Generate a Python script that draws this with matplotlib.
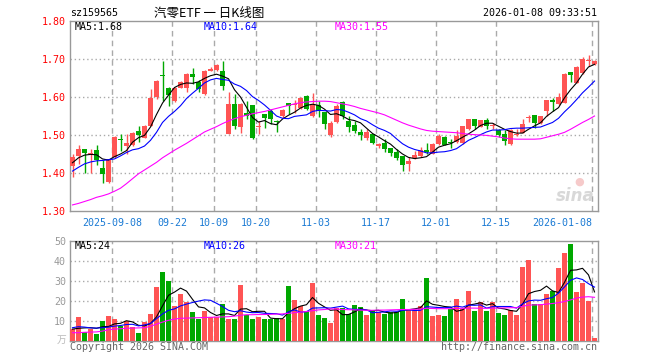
import matplotlib
matplotlib.use("Agg")
import matplotlib.pyplot as plt
import numpy as np

plt.rcParams.update({
    "font.family": "DejaVu Sans Mono",
    "font.size": 7.2,
})

# ---- data ----
tick_idx    = [7, 17, 24, 31, 41, 51, 61, 71, 87]
tick_labels = ["2025-09-08", "09-22", "10-09", "10-20", "11-03",
               "11-17", "12-01", "12-15", "2026-01-08"]

opens = [1.419, 1.445, 1.464, 1.449, 1.460, 1.414, 1.376, 1.442, 1.490, 1.470,
         1.475, 1.510, 1.493, 1.525, 1.600, 1.659, 1.623, 1.589, 1.625, 1.625,
         1.660, 1.639, 1.607, 1.668, 1.671, 1.668, 1.503, 1.582, 1.521, 1.558,
         1.578, 1.522, 1.556, 1.563, 1.537, 1.550, 1.583, 1.580, 1.572, 1.603,
         1.550, 1.578, 1.561, 1.499, 1.535, 1.587, 1.537, 1.526, 1.508, 1.493,
         1.502, 1.472, 1.478, 1.465, 1.455, 1.446, 1.423, 1.439, 1.445, 1.461,
         1.451, 1.477, 1.496, 1.481, 1.482, 1.480, 1.515, 1.541, 1.522, 1.539,
         1.523, 1.512, 1.502, 1.477, 1.500, 1.504, 1.545, 1.552, 1.531, 1.563,
         1.592, 1.581, 1.585, 1.667, 1.638, 1.664, 1.694, 1.686]
highs = [1.449, 1.474, 1.464, 1.464, 1.475, 1.433, 1.438, 1.498, 1.502, 1.502,
         1.508, 1.525, 1.526, 1.621, 1.644, 1.695, 1.626, 1.627, 1.641, 1.662,
         1.677, 1.646, 1.672, 1.679, 1.688, 1.695, 1.612, 1.607, 1.585, 1.590,
         1.579, 1.538, 1.556, 1.568, 1.540, 1.568, 1.583, 1.591, 1.600, 1.605,
         1.610, 1.590, 1.561, 1.537, 1.581, 1.590, 1.550, 1.537, 1.515, 1.515,
         1.503, 1.480, 1.489, 1.467, 1.462, 1.446, 1.441, 1.458, 1.469, 1.479,
         1.478, 1.503, 1.497, 1.489, 1.512, 1.525, 1.543, 1.543, 1.540, 1.545,
         1.531, 1.517, 1.513, 1.517, 1.515, 1.543, 1.552, 1.553, 1.551, 1.592,
         1.598, 1.611, 1.662, 1.667, 1.682, 1.704, 1.710, 1.697]
lows  = [1.390, 1.423, 1.401, 1.400, 1.420, 1.374, 1.374, 1.440, 1.458, 1.451,
         1.472, 1.482, 1.492, 1.524, 1.594, 1.589, 1.576, 1.588, 1.624, 1.614,
         1.635, 1.614, 1.605, 1.668, 1.668, 1.618, 1.502, 1.515, 1.504, 1.541,
         1.489, 1.502, 1.518, 1.528, 1.508, 1.546, 1.554, 1.559, 1.568, 1.566,
         1.548, 1.547, 1.515, 1.495, 1.532, 1.541, 1.508, 1.504, 1.487, 1.487,
         1.477, 1.465, 1.454, 1.444, 1.433, 1.405, 1.406, 1.438, 1.443, 1.449,
         1.449, 1.475, 1.474, 1.467, 1.479, 1.477, 1.513, 1.517, 1.521, 1.515,
         1.515, 1.496, 1.475, 1.475, 1.497, 1.504, 1.534, 1.519, 1.530, 1.550,
         1.563, 1.579, 1.584, 1.639, 1.636, 1.660, 1.682, 1.685]
closes = [1.443, 1.464, 1.452, 1.452, 1.433, 1.398, 1.436, 1.496, 1.488, 1.478,
          1.506, 1.499, 1.525, 1.597, 1.642, 1.655, 1.604, 1.625, 1.640, 1.660,
          1.653, 1.621, 1.669, 1.675, 1.683, 1.629, 1.582, 1.524, 1.582, 1.550,
          1.491, 1.525, 1.544, 1.541, 1.535, 1.565, 1.576, 1.582, 1.598, 1.568,
          1.581, 1.563, 1.528, 1.531, 1.576, 1.550, 1.521, 1.511, 1.500, 1.508,
          1.480, 1.476, 1.462, 1.453, 1.439, 1.420, 1.432, 1.447, 1.461, 1.456,
          1.477, 1.497, 1.475, 1.478, 1.497, 1.524, 1.541, 1.524, 1.539, 1.525,
          1.527, 1.499, 1.484, 1.512, 1.502, 1.528, 1.547, 1.531, 1.550, 1.591,
          1.588, 1.600, 1.660, 1.658, 1.679, 1.701, 1.696, 1.696]

ma5 = [1.427, 1.440, 1.447, 1.449, 1.448, 1.437, 1.434, 1.443, 1.450, 1.459,
       1.481, 1.493, 1.499, 1.521, 1.554, 1.584, 1.605, 1.625, 1.633, 1.637,
       1.636, 1.640, 1.649, 1.656, 1.660, 1.655, 1.648, 1.619, 1.600, 1.573,
       1.546, 1.534, 1.538, 1.530, 1.527, 1.542, 1.552, 1.560, 1.571, 1.578,
       1.581, 1.578, 1.568, 1.554, 1.556, 1.550, 1.541, 1.538, 1.532, 1.518,
       1.504, 1.495, 1.485, 1.476, 1.462, 1.450, 1.441, 1.438, 1.440, 1.443,
       1.455, 1.468, 1.473, 1.477, 1.485, 1.494, 1.503, 1.513, 1.525, 1.531,
       1.531, 1.523, 1.515, 1.509, 1.505, 1.505, 1.515, 1.524, 1.532, 1.549,
       1.561, 1.572, 1.598, 1.619, 1.637, 1.660, 1.679, 1.686]
ma10 = [1.405, 1.415, 1.424, 1.429, 1.432, 1.433, 1.435, 1.437, 1.445, 1.454,
        1.461, 1.464, 1.471, 1.486, 1.507, 1.533, 1.549, 1.562, 1.577, 1.596,
        1.610, 1.623, 1.637, 1.645, 1.649, 1.646, 1.644, 1.634, 1.628, 1.617,
        1.601, 1.591, 1.579, 1.565, 1.550, 1.544, 1.543, 1.549, 1.551, 1.553,
        1.562, 1.565, 1.564, 1.563, 1.567, 1.566, 1.560, 1.553, 1.543, 1.537,
        1.527, 1.518, 1.512, 1.504, 1.490, 1.477, 1.468, 1.462, 1.458, 1.453,
        1.453, 1.455, 1.456, 1.459, 1.464, 1.475, 1.486, 1.493, 1.501, 1.508,
        1.513, 1.513, 1.514, 1.517, 1.518, 1.518, 1.519, 1.520, 1.521, 1.527,
        1.533, 1.544, 1.561, 1.576, 1.593, 1.611, 1.626, 1.642]
ma30 = [1.316, 1.320, 1.325, 1.330, 1.336, 1.340, 1.345, 1.352, 1.360, 1.372,
        1.385, 1.398, 1.408, 1.418, 1.428, 1.440, 1.450, 1.460, 1.469, 1.478,
        1.488, 1.498, 1.508, 1.515, 1.522, 1.530, 1.537, 1.543, 1.548, 1.552,
        1.556, 1.559, 1.562, 1.566, 1.570, 1.574, 1.578, 1.582, 1.585, 1.587,
        1.588, 1.589, 1.589, 1.588, 1.585, 1.582, 1.579, 1.575, 1.570, 1.566,
        1.562, 1.558, 1.553, 1.546, 1.539, 1.532, 1.526, 1.521, 1.516, 1.512,
        1.510, 1.509, 1.508, 1.507, 1.506, 1.504, 1.502, 1.501, 1.500, 1.499,
        1.497, 1.495, 1.492, 1.490, 1.489, 1.489, 1.489, 1.489, 1.490, 1.494,
        1.498, 1.502, 1.507, 1.515, 1.524, 1.533, 1.541, 1.550]

volumes = [5.8, 11.7, 4.3, 6.0, 3.2, 9.7, 12.2, 10.8, 7.5, 10.0,
           6.7, 3.7, 9.2, 13.3, 26.7, 34.3, 29.8, 17.3, 23.2, 19.2,
           14.2, 10.8, 14.8, 11.7, 11.7, 18.2, 10.8, 10.7, 27.7, 12.7,
           10.8, 11.7, 10.7, 10.7, 11.2, 10.8, 27.2, 20.2, 17.2, 14.8,
           28.7, 12.7, 11.2, 8.7, 16.2, 16.2, 13.2, 17.7, 16.7, 12.7,
           14.8, 14.2, 13.2, 14.2, 14.2, 20.7, 15.2, 15.2, 17.2, 31.2,
           12.2, 12.7, 12.2, 15.7, 20.7, 15.7, 24.7, 14.7, 19.2, 14.7,
           19.2, 13.7, 12.7, 15.2, 12.7, 36.7, 40.2, 18.2, 18.2, 23.2,
           24.7, 36.2, 43.7, 48.3, 24.2, 28.7, 19.8, 1.2]
vma5 = [5.8, 6.2, 6.4, 6.5, 6.2, 7.0, 7.1, 8.4, 8.7, 10.0,
        9.4, 7.7, 7.4, 8.6, 11.9, 17.4, 22.7, 24.3, 26.3, 24.8,
        20.7, 16.9, 16.4, 14.1, 12.6, 13.4, 13.4, 12.6, 15.8, 16.0,
        14.5, 14.7, 14.7, 11.3, 11.0, 11.0, 14.1, 16.0, 17.3, 18.0,
        21.6, 18.7, 16.9, 15.2, 15.5, 13.0, 13.1, 14.4, 16.0, 15.3,
        15.0, 15.2, 14.3, 13.8, 14.1, 15.3, 15.5, 15.9, 16.5, 19.9,
        18.2, 17.7, 17.1, 16.8, 14.7, 15.4, 17.8, 18.3, 19.0, 17.8,
        18.5, 16.3, 15.9, 15.1, 14.7, 18.2, 23.5, 24.6, 25.2, 27.3,
        24.9, 24.1, 29.2, 35.2, 35.4, 36.2, 32.9, 24.4]
vma10 = [6.5, 7.0, 6.8, 6.4, 6.3, 6.5, 6.8, 7.3, 7.6, 8.1,
         8.2, 7.4, 7.9, 8.6, 11.0, 13.4, 15.2, 15.9, 17.4, 18.3,
         19.1, 19.8, 20.4, 20.2, 18.7, 17.1, 15.2, 14.5, 15.0, 14.3,
         14.0, 14.1, 13.7, 13.6, 13.5, 12.8, 14.4, 15.4, 14.3, 14.5,
         16.3, 16.4, 16.5, 16.3, 16.8, 17.3, 15.9, 15.7, 15.6, 15.4,
         14.0, 14.2, 14.4, 14.9, 14.7, 15.2, 15.4, 15.1, 15.2, 17.0,
         16.8, 16.6, 16.5, 16.7, 17.3, 16.8, 17.8, 17.7, 17.9, 16.3,
         17.0, 17.1, 17.1, 17.1, 16.3, 18.4, 19.9, 20.3, 20.2, 21.0,
         21.6, 23.8, 26.9, 30.2, 31.4, 30.6, 28.5, 26.8]
vma30 = [4.0, 4.0, 4.2, 4.3, 4.4, 4.8, 5.5, 5.8, 6.0, 6.2,
         6.3, 6.4, 6.5, 7.2, 8.3, 9.3, 10.2, 10.8, 11.2, 11.3,
         11.4, 11.5, 11.6, 11.7, 11.8, 11.9, 12.0, 12.3, 12.7, 13.0,
         13.0, 13.1, 13.1, 13.2, 13.3, 13.4, 13.7, 14.0, 14.3, 14.6,
         15.0, 15.4, 15.6, 15.9, 15.8, 15.6, 15.5, 15.4, 15.3, 15.2,
         15.2, 15.3, 15.3, 15.4, 15.5, 15.6, 15.6, 15.7, 15.8, 16.2,
         16.1, 16.0, 16.0, 16.0, 16.1, 16.2, 16.3, 16.3, 16.2, 16.2,
         16.3, 16.3, 16.4, 16.5, 16.5, 17.2, 17.8, 17.9, 18.0, 18.3,
         18.6, 19.0, 19.6, 20.4, 21.3, 21.8, 22.0, 21.7]

RED   = "#ff5454"
GREEN = "#00a800"
GRID  = "#aaaaaa"
W, H  = 660, 360


def fx(x):
    return x / W


def fy(y):
    return 1 - y / H


fig = plt.figure(figsize=(6.6, 3.6), dpi=100)
fig.patch.set_facecolor("white")

ax = fig.add_axes([fx(70), fy(211), fx(597.7) - fx(70), fy(21) - fy(211)])
axv = fig.add_axes([fx(70), fy(340.7), fx(597.7) - fx(70), fy(240.7) - fy(340.7)])

x = np.arange(len(closes))
o = np.array(opens); c = np.array(closes)
up = c >= o
colors = np.where(up, RED, GREEN)

for a in (ax, axv):
    a.set_xlim(-5 / 12, 87.53)
    for s in a.spines.values():
        s.set_color("#999999")
        s.set_linewidth(1)
    for d in tick_idx:
        a.axvline(d - 5 / 12, color=GRID, lw=1, ls=(0, (4, 3)), zorder=0)
    a.tick_params(length=0)

# price panel
ax.set_ylim(1.30, 1.80)
for p in [1.40, 1.50, 1.60, 1.70]:
    ax.axhline(p, color=GRID, lw=1, ls=(0, (1, 2)), zorder=0)
ax.vlines(x, lows, highs, colors=colors, lw=1, zorder=2)
body_h = np.maximum(np.abs(c - o), 0.0026)
ax.bar(x, body_h, bottom=np.minimum(o, c), width=0.85, color=colors,
       linewidth=0, zorder=3)
ax.plot(x, ma5, color="black", lw=0.8, zorder=4)
ax.plot(x, ma10, color="#0000ff", lw=0.8, zorder=4)
ax.plot(x, ma30, color="#ff00ff", lw=0.8, zorder=4)

ax.set_yticks([1.30, 1.40, 1.50, 1.60, 1.70, 1.80])
ax.set_yticklabels(["1.30", "1.40", "1.50", "1.60", "1.70", "1.80"])
ax.tick_params(axis="y", labelcolor="#ff0000", pad=3)
ax.set_xticks([d - 5 / 12 for d in tick_idx])
ax.set_xticklabels(tick_labels, color="#1a7ad4")
ax.tick_params(axis="x", pad=5)
ax.get_xticklabels()[-1].set_ha("right")

# sina watermark
ax.text(0.995, 0.03, "sina", transform=ax.transAxes, ha="right", va="bottom",
        fontsize=12, fontweight="bold", style="italic", color="#d8d8d8",
        family="DejaVu Sans", zorder=1)
ax.text(0.965, 0.13, "●", transform=ax.transAxes, ha="center", va="bottom",
        fontsize=8, color="#f6caca", family="DejaVu Sans", zorder=1)

# volume panel
axv.set_ylim(0, 50)
for v in [10, 20, 30, 40]:
    axv.axhline(v, color=GRID, lw=1, ls=(0, (1, 2)), zorder=0)
axv.bar(x, volumes, width=0.85, color=colors, linewidth=0, zorder=3)
axv.plot(x, vma5, color="black", lw=0.8, zorder=4)
axv.plot(x, vma10, color="#0000ff", lw=0.8, zorder=4)
axv.plot(x, vma30, color="#ff00ff", lw=0.8, zorder=4)
axv.set_yticks([10, 20, 30, 40, 50])
axv.set_yticklabels(["10", "20", "30", "40", "50"])
axv.tick_params(axis="y", labelcolor="#999999", pad=3)
axv.set_xticks([])

# texts
fig.text(fx(70), fy(13), "sz159565", ha="left", va="center", color="black")
fig.text(fx(209), fy(13), "汽零ETF 一 日K线图", ha="center", va="center",
         fontsize=9, family=["Noto Sans CJK SC", "DejaVu Sans"])
fig.text(fx(597), fy(13), "2026-01-08 09:33:51", ha="right", va="center")

fig.text(fx(75), fy(27), "MA5:1.68", ha="left", va="center", color="black")
fig.text(fx(204), fy(27), "MA10:1.64", ha="left", va="center", color="#0000ff")
fig.text(fx(335), fy(27), "MA30:1.55", ha="left", va="center", color="#ff00ff")

fig.text(fx(75), fy(246), "MA5:24", ha="left", va="center", color="black")
fig.text(fx(204), fy(246), "MA10:26", ha="left", va="center", color="#0000ff")
fig.text(fx(335), fy(246), "MA30:21", ha="left", va="center", color="#ff00ff")

fig.text(fx(66), fy(340), "万", ha="right", va="center", fontsize=7,
         color="#bbbbbb", family=["Noto Sans CJK SC", "DejaVu Sans"])
fig.text(fx(70), fy(347), "Copyright 2026 SINA.COM", ha="left", va="center",
         color="#666666")
fig.text(fx(597), fy(347), "http://finance.sina.com.cn", ha="right",
         va="center", color="#666666")

fig.savefig("out.png", dpi=100)
